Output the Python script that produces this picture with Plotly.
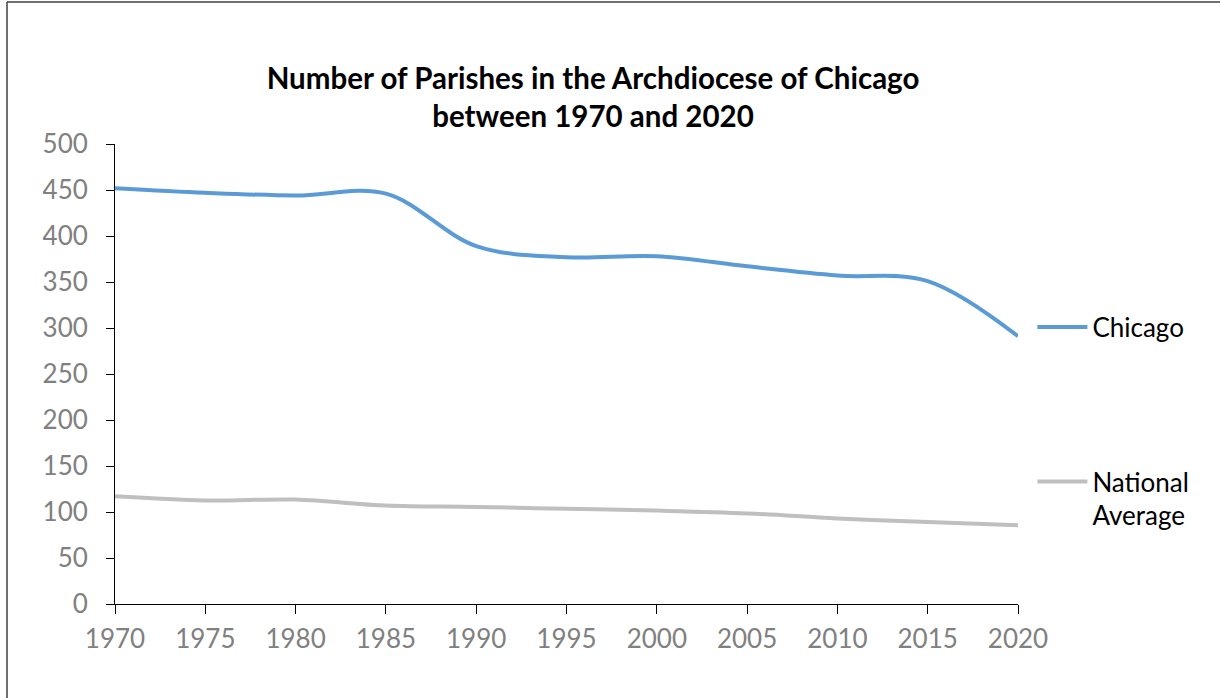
import plotly.graph_objects as go

years = [1970, 1975, 1980, 1985, 1990, 1995, 2000, 2005, 2010, 2015, 2020]
chicago = [452, 447, 444, 446, 389, 377, 378, 367, 357, 351, 291]
national = [117, 112.5, 113.5, 107, 105.5, 103.5, 101.5, 98.5, 93, 89, 85.5]
x_ticks = list(range(1970, 2021, 5))
y_ticks = list(range(0, 501, 50))

FONT = "Lato"
W, H = 1220, 698
L, R, T, B = 115, 202, 144, 94
PW, PH = W - L - R, H - T - B

def px_x(p):
    return (p - L) / PW

def px_y(p):
    return (H - B - p) / PH

fig = go.Figure()
fig.add_trace(go.Scatter(
    x=years, y=chicago, name="Chicago", mode="lines",
    line=dict(color="#5B9BD5", width=4, shape="spline", smoothing=1),
    legend="legend", showlegend=True,
))
fig.add_trace(go.Scatter(
    x=years, y=national, name="National<br>Average", mode="lines",
    line=dict(color="#BFBFBF", width=4, shape="spline", smoothing=1),
    legend="legend2", showlegend=True,
))

# chart-area border (only top and left edges are visible in the picture)
border = dict(color="#404040", width=1.5)
fig.add_shape(type="line", xref="paper", yref="paper",
              x0=px_x(7), x1=px_x(1230), y0=px_y(2), y1=px_y(2), line=border, layer="below")
fig.add_shape(type="line", xref="paper", yref="paper",
              x0=px_x(7), x1=px_x(7), y0=px_y(2), y1=px_y(710), line=border, layer="below")

legend_common = dict(xref="paper", yref="paper", xanchor="left",
                     font=dict(family=FONT, size=26, color="#000000"),
                     bgcolor="rgba(0,0,0,0)", valign="top", itemwidth=50)

fig.update_layout(
    width=W, height=H,
    showlegend=True,
    margin=dict(l=L, r=R, t=T, b=B, autoexpand=False),
    paper_bgcolor="white", plot_bgcolor="white",
    font=dict(family=FONT),
    title=dict(
        text="<b>Number of Parishes in the Archdiocese of Chicago<br>between 1970 and 2020</b>",
        x=593 / W, xanchor="center", xref="container",
        y=1 - 89 / H, yanchor="top", yref="container",
        font=dict(family=FONT, size=29.5, color="#000000"),
    ),
    xaxis=dict(
        range=[1970, 2020], tickvals=x_ticks, ticktext=[str(v) for v in x_ticks],
        showgrid=False, zeroline=False, showline=True, linecolor="#000000", linewidth=1,
        ticks="outside", ticklen=9, tickcolor="#000000", tickwidth=1,
        tickfont=dict(family=FONT, size=26, color="#808080"),
        ticklabelstandoff=3, automargin=False,
    ),
    yaxis=dict(
        range=[0, 500], tickvals=y_ticks,
        showgrid=False, zeroline=False, showline=True, linecolor="#000000", linewidth=1,
        ticks="outside", ticklen=8, tickcolor="#000000", tickwidth=1,
        tickfont=dict(family=FONT, size=26, color="#808080"),
        ticklabelstandoff=13, automargin=False,
    ),
    legend=dict(x=px_x(1036) - 0.004, y=px_y(327), yanchor="middle", **legend_common),
    legend2=dict(x=px_x(1036) - 0.004, y=px_y(458), yanchor="top", **legend_common),
)

fig.write_html("out.html", config={"displayModeBar": False},
               post_script="document.body.style.margin='0';document.body.style.overflow='hidden';")
